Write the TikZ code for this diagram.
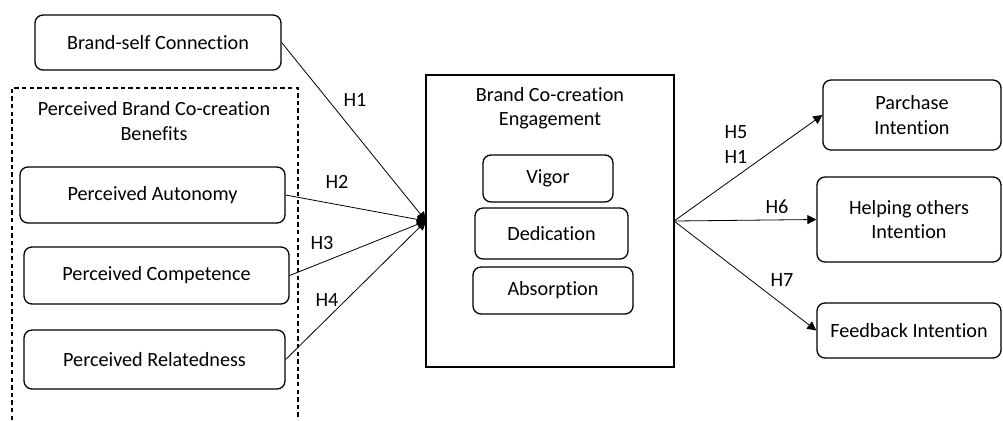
\documentclass[tikz,border=0pt]{standalone}
\usepackage{fontspec}
\setmainfont{Carlito}[Ligatures={NoCommon}]
\usetikzlibrary{arrows.meta}
\begin{document}
\begin{tikzpicture}[x=0.5pt,y=-0.5pt,
  font=\fontsize{10.1pt}{12.2pt}\selectfont,
  rbox/.style={draw,line width=0.65pt,rounded corners=4pt,inner sep=0pt,align=center},
  conn/.style={line width=0.4pt,-{Triangle[length=4.5pt,width=4.5pt]}},
  lbl/.style={inner sep=0pt}]
\useasboundingbox (0,0) rectangle (1003,420);
% dashed group
\draw[line width=0.6pt,dash pattern=on 2.2pt off 1.6pt] (12,420) -- (12,88) -- (298,88) -- (298,420);
\node[align=center] (pbt) at (154,121) {Perceived Brand Co-creation\\Benefits};
% left boxes
\node[rbox,minimum width=123pt,minimum height=27.5pt] (bsc) at (158,42.5) {Brand-self Connection};
\node[rbox,minimum width=132.5pt,minimum height=28pt] (pa) at (152.5,195) {Perceived Autonomy};
\node[rbox,minimum width=132.5pt,minimum height=28.5pt] (pc) at (156.5,275.5) {Perceived Competence};
\node[rbox,minimum width=130.5pt,minimum height=29.5pt] (pr) at (154.5,359.5) {Perceived Relatedness};
% central box
\node[draw,line width=0.65pt,minimum width=124pt,minimum height=146pt,inner sep=0pt] (bce) at (550,221) {};
\node[align=center] (bcet) at (550,108) {Brand Co-creation\\Engagement};
\node[rbox,minimum width=65pt,minimum height=23.5pt] (vig) at (548,178.5) {Vigor};
\node[rbox,minimum width=76.5pt,minimum height=25.5pt] (ded) at (551.5,233.5) {Dedication};
\node[rbox,minimum width=80pt,minimum height=23.5pt] (abs) at (553,290.5) {Absorption};
% right boxes
\node[rbox,minimum width=89pt,minimum height=35pt] (pi) at (912,115) {Parchase\\Intention};
\node[rbox,minimum width=92pt,minimum height=42.5pt] (hoi) at (909,219.5) {Helping others\\Intention};
\node[rbox,minimum width=92pt,minimum height=27.5pt] (fi) at (909,330.5) {Feedback Intention};
% connectors
\coordinate (tgt) at (426,221);
\coordinate (src) at (674,221);
\draw[conn] (bsc.east) -- (tgt);
\draw[conn] (pa.east) -- (tgt);
\draw[conn] (pc.east) -- (tgt);
\draw[conn] (pr.east) -- (tgt);
\draw[conn] (src) -- (pi.west);
\draw[conn] (src) -- (hoi.west);
\draw[conn] (src) -- (fi.west);
% labels
\node[lbl] (h1) at (355,100) {H1};
\node[lbl] (h2) at (337,182) {H2};
\node[lbl] (h3) at (322,243) {H3};
\node[lbl] (h4) at (327,300) {H4};
\node[lbl] (h5) at (736,132) {H5};
\node[lbl] (h1b) at (736,157) {H1};
\node[lbl] (h6) at (777,207) {H6};
\node[lbl] (h7) at (782,280) {H7};
\end{tikzpicture}
\end{document}
